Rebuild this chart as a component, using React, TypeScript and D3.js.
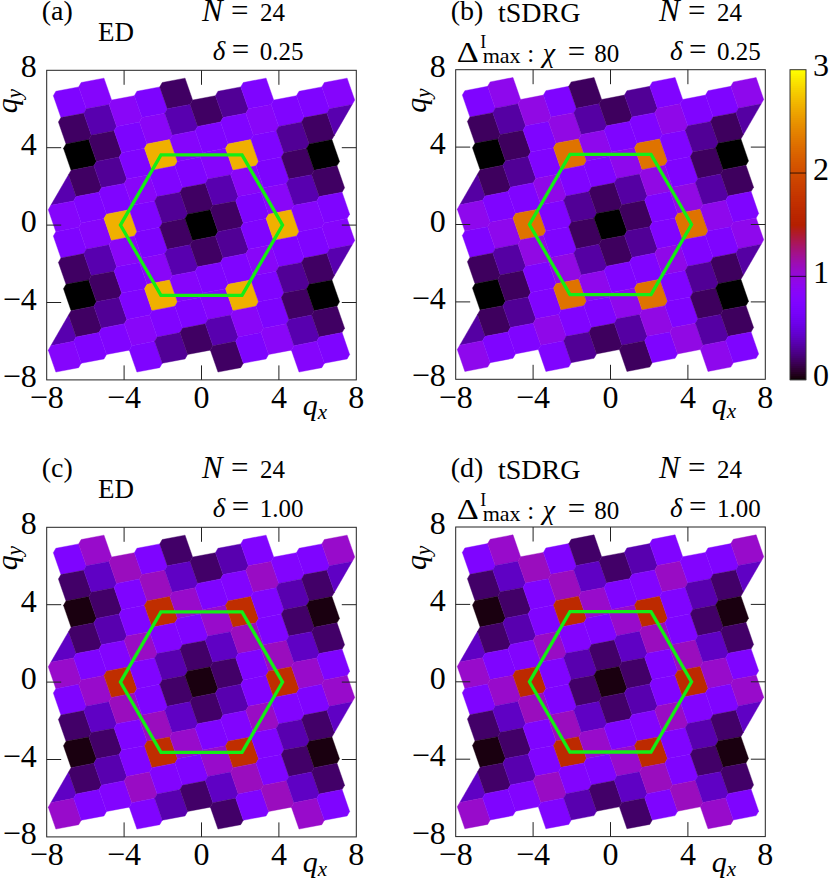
import React from "react";
import * as d3 from "d3";

// Structure factor for residues i = 0..12 of the 24-site cluster (i and 24-i are equal)
const valuesEdQuarter = [0, 0.19, 0.72, 0.86, 0.36, 0.19, 0.3, 0.74, 2.65, 0.82, 0.74, 0.76, 0.85];
const valuesTsdrgQuarter = [0, 0.18, 0.74, 0.97, 0.33, 0.18, 0.3, 0.75, 2.3, 0.93, 0.74, 0.76, 0.95];
const valuesEdOne = [0.03, 0.2, 0.74, 1.1, 0.42, 0.2, 0.36, 0.75, 1.7, 1.06, 0.74, 0.78, 1.08];
const valuesTsdrgOne = [0.03, 0.2, 0.74, 1.1, 0.42, 0.2, 0.36, 0.75, 1.65, 1.06, 0.74, 0.78, 1.08];

const axisTicks = [-8, -4, 0, 4, 8];
const innerTicks = [-4, 0, 4];
const barTicks = [0, 1, 2, 3];

const KX = (4 * Math.PI) / 3;
const KY = (2 * Math.PI) / Math.sqrt(3);
const hexagon: [number, number][] = [
  [KX, 0], [KX / 2, KY], [-KX / 2, KY], [-KX, 0], [-KX / 2, -KY], [KX / 2, -KY],
];
// reciprocal cluster vectors: 8 a1 = 2 K1 + K2, a2 = K1 - 3 a1
const a1: [number, number] = [(2 * KX + KX / 2) / 8, KY / 8];
const a2: [number, number] = [KX - 3 * a1[0], -3 * a1[1]];

function circumcenter(p: [number, number], q: [number, number]): [number, number] {
  const pp = (p[0] * p[0] + p[1] * p[1]) / 2;
  const qq = (q[0] * q[0] + q[1] * q[1]) / 2;
  const det = p[0] * q[1] - p[1] * q[0];
  return [(pp * q[1] - qq * p[1]) / det, (qq * p[0] - pp * q[0]) / det];
}
const sum: [number, number] = [a1[0] + a2[0], a1[1] + a2[1]];
const v1 = circumcenter(a1, sum);
const v2 = circumcenter(a2, sum);
const cellCorners: [number, number][] = [
  v1,
  [v2[0] - a2[0], v2[1] - a2[1]],
  [-v2[0], -v2[1]],
  [-v1[0], -v1[1]],
  [a2[0] - v2[0], a2[1] - v2[1]],
  v2,
];

const palette = (v: number) => {
  const x = Math.max(0, Math.min(1, v / 3));
  const r = Math.sqrt(x);
  const g = x * x * x;
  const b = Math.max(0, Math.sin(2 * Math.PI * x));
  return d3.rgb(r * 255, g * 255, b * 255).formatHex();
};

type Cell = { pts: string; color: string };
const SIZE = 309.6;

function Panel({ left, top, values, label, method, tsdrg, delta }: any) {
  const x = d3.scaleLinear().domain([-8, 8]).range([left, left + SIZE]);
  const y = d3.scaleLinear().domain([-8, 8]).range([top + SIZE, top]);
  const cells: Cell[] = [];
  for (const m of d3.range(-12, 13)) {
    for (const n of d3.range(-12, 13)) {
      const cx = m * a1[0] + n * a2[0];
      const cy = m * a1[1] + n * a2[1];
      if (Math.abs(cx) > 7.4 || Math.abs(cy) > 7) continue;
      const idx = ((m + 5 * n) % 24 + 24) % 24;
      const v = values[idx <= 12 ? idx : 24 - idx];
      const kept = cellCorners
        .map(([a, b]) => [cx + a, cy + b])
        .filter(([a, b]) => Math.abs(a) < 8 && Math.abs(b) < 8);
      cells.push({
        pts: kept.map(([a, b]) => `${x(a).toFixed(2)},${y(b).toFixed(2)}`).join(" "),
        color: palette(v),
      });
    }
  }
  const hexLine = d3.line<[number, number]>().x((d) => x(d[0])).y((d) => y(d[1])).curve(d3.curveLinearClosed);
  const fmt = (t: number) => (t < 0 ? `\u2212${-t}` : `${t}`);
  const nX = left + (tsdrg ? 203.3 : 155.3);
  const dX = left + (tsdrg ? 214.3 : 166);
  return (
    <g>
      {cells.map((c, i) => (
        <polygon key={i} points={c.pts} fill={c.color} stroke={c.color} strokeWidth={0.4} />
      ))}
      {innerTicks.map((t) => (
        <g key={t} stroke="#222" strokeWidth={1}>
          <line x1={x(t)} x2={x(t)} y1={top} y2={top + 14.5} />
          <line x1={x(t)} x2={x(t)} y1={top + SIZE} y2={top + SIZE - 14.5} />
          <line y1={y(t)} y2={y(t)} x1={left} x2={left + 14.5} />
          <line y1={y(t)} y2={y(t)} x1={left + SIZE} x2={left + SIZE - 14.5} />
        </g>
      ))}
      <path d={hexLine(hexagon) as string} fill="none" stroke="#14ee14" strokeWidth={3.3} strokeLinejoin="miter" />
      <rect x={left} y={top} width={SIZE} height={SIZE} fill="none" stroke="#222" strokeWidth={1} />
      <g fontSize={32}>
        {axisTicks.map((t) => (
          <text key={t} x={x(t)} y={top + SIZE + 28.5} textAnchor="middle">{fmt(t)}</text>
        ))}
        {axisTicks.map((t) => (
          <text key={t} x={left - 10} y={y(t) + 7} textAnchor="end">{fmt(t)}</text>
        ))}
      </g>
      <g fontSize={30} fontStyle="italic">
        <text x={left + 256} y={top + SIZE + 35}>q<tspan fontSize={21} dy={4}>x</tspan></text>
        <text transform={`translate(${left - 29.5},${top + 43}) rotate(-90)`}>q<tspan fontSize={21} dy={4}>y</tspan></text>
      </g>
      <g fontSize={28}>
        <text x={left - 5} y={top - 50}>{label}</text>
        <text x={left + (tsdrg ? 42.3 : 51.3)} y={top - (tsdrg ? 48 : 29)} fontSize={tsdrg ? 28 : 27}>{method}</text>
        <text x={nX} y={top - 49} fontStyle="italic" fontSize={31}>N</text>
        <text x={nX + 29} y={top - 49} fontSize={31}>=</text>
        <text x={nX + 58} y={top - 49} fontSize={25}>24</text>
        <text x={dX} y={top - 10} fontStyle="italic" fontSize={27}>{"\u03B4"}</text>
        <text x={dX + 19} y={top - 10} fontSize={31}>=</text>
        <text x={dX + 47} y={top - 10} fontSize={25}>{delta}</text>
        {tsdrg && (
          <g>
            <text x={left + 1} y={top - 8} fontSize={29} textLength={22} lengthAdjust="spacingAndGlyphs">{"\u0394"}</text>
            <text x={left + 24.5} y={top - 21.5} fontSize={18}>I</text>
            <text x={left + 27} y={top - 6.5} fontSize={22}>max</text>
            <text x={left + 71.5} y={top - 8} fontSize={25}>:</text>
            <text x={left + 87} y={top - 8} fontSize={28} fontStyle="italic">{"\u03C7"}</text>
            <text x={left + 112} y={top - 8} fontSize={31}>=</text>
            <text x={left + 138.5} y={top - 8} fontSize={25}>80</text>
          </g>
        )}
      </g>
    </g>
  );
}

export default function App() {
  const barX = 790, barW = 16, barTop = 69.7, barH = 310;
  const bar = d3.scaleLinear().domain([0, 3]).range([barTop + barH, barTop]);
  const steps = d3.range(0, 3, 3 / 155);
  return (
    <svg width={830} height={880} style={{ position: "absolute", left: 0, top: 0 }} fontFamily="'Liberation Serif', serif" fill="#000">
      <Panel left={46.7} top={70.3} values={valuesEdQuarter} label="(a)" method="ED" delta="0.25" />
      <Panel left={455.7} top={69.7} values={valuesTsdrgQuarter} label="(b)" method="tSDRG" tsdrg delta="0.25" />
      <Panel left={46.7} top={527.3} values={valuesEdOne} label="(c)" method="ED" delta="1.00" />
      <Panel left={455.7} top={527} values={valuesTsdrgOne} label="(d)" method="tSDRG" tsdrg delta="1.00" />
      {steps.map((v) => (
        <rect key={v} x={barX} y={bar(v + 3 / 155)} width={barW} height={barH / 155 + 0.5} fill={palette(v + 1.5 / 155)} />
      ))}
      <rect x={barX} y={barTop} width={barW} height={barH} fill="none" stroke="#333" strokeWidth={1} />
      {barTicks.slice(1, 3).map((t) => (
        <line key={t} x1={barX} x2={barX + barW} y1={bar(t)} y2={bar(t)} stroke="#000" strokeOpacity={0.75} strokeWidth={1} />
      ))}
      <g fontSize={32}>
        {barTicks.map((t) => (
          <text key={t} x={813} y={bar(t) + 6.5}>{t}</text>
        ))}
      </g>
    </svg>
  );
}
